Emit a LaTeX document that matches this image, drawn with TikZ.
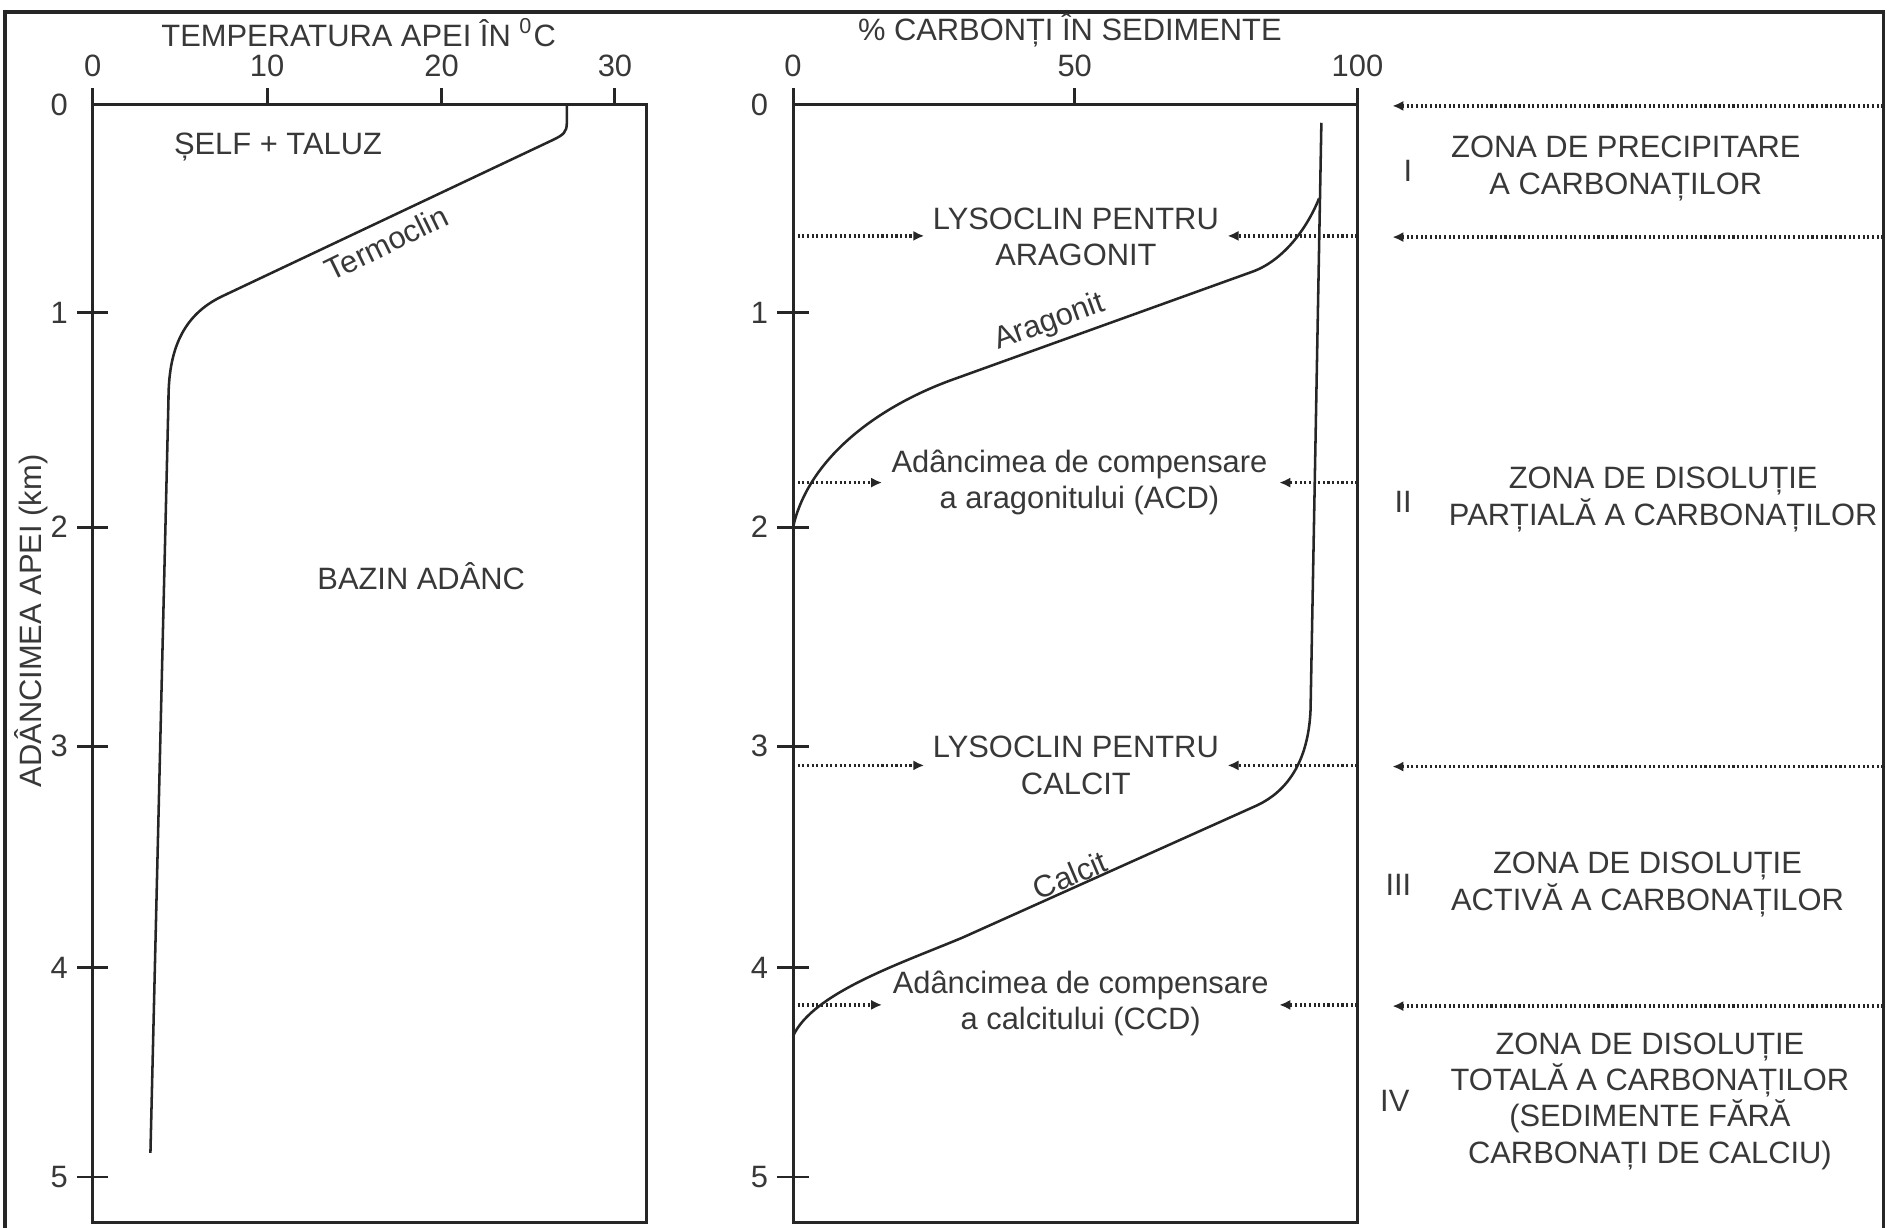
\documentclass[tikz,border=0pt]{standalone}
\usepackage{fontspec}
\setmainfont{Liberation Sans}
\usetikzlibrary{arrows.meta}
\definecolor{ink}{HTML}{262626}
\definecolor{txt}{HTML}{383838}
\begin{document}
\begin{tikzpicture}[x=0.1mm,y=-0.1mm,
  lbl/.style={text=txt,font=\fontsize{7.3}{8.6}\selectfont,inner sep=0pt,align=center},
  boxline/.style={draw=ink,line width=0.7pt},
  curveline/.style={draw=ink,line width=0.6pt,line join=round},
  dotarrow/.style={draw=ink,line width=0.8pt,dash pattern=on 0.5pt off 0.6pt,
     -{Latex[length=2.6pt,width=2.4pt]}},
]
\useasboundingbox (0,0) rectangle (1568,1020);
\clip (0,0) rectangle (1568,1020);
% outer frame
\draw[draw=ink,line width=0.8pt] (4,1040) -- (4,10) -- (1565,10) -- (1565,1040);

% ---------- left panel ----------
\draw[boxline] (77,87) rectangle (537,1016);
\foreach \x/\t in {77/0,222/10,367/20,511/30}{
  \draw[boxline] (\x,87) -- (\x,73);
  \node[lbl] (lx\t) at (\x,55) {\t};
}
\node[lbl,anchor=east] (ly0) at (57,87) {0};
\foreach \d/\y in {1/260,2/438,3/620,4/804,5/978}{
  \draw[boxline] (64,\y) -- (90,\y);
  \node[lbl,anchor=east] (ly\d) at (57,\y) {\d};
}
\node[lbl] (ttemp) at (298,27) {TEMPERATURA APEI ÎN \textsuperscript{0}C};
\node[lbl,rotate=90] (tdepth) at (26,516) {ADÂNCIMEA APEI (km)};
\node[lbl] (tself) at (231,122) {ȘELF + TALUZ};
\node[lbl] (tbazin) at (350,479) {BAZIN ADÂNC};
\node[lbl,rotate=26] (tterm) at (321,202) {Termoclin};

\draw[curveline] (471,87) -- (471,102) .. controls (471,110) and (468,112) .. (460,116)
  -- (185,246) .. controls (151,262) and (140,292) .. (140,332) -- (125,958);

% ---------- right panel ----------
\draw[boxline] (659,87) rectangle (1128,1016);
\foreach \x/\t in {659/0,893/50,1128/100}{
  \draw[boxline] (\x,87) -- (\x,73);
  \node[lbl] (rx\t) at (\x,55) {\t};
}
\node[lbl,anchor=east] (ry0) at (639,87) {0};
\foreach \d/\y in {1/260,2/438,3/620,4/804,5/978}{
  \draw[boxline] (646,\y) -- (672,\y);
  \node[lbl,anchor=east] (ry\d) at (639,\y) {\d};
}
\node[lbl] (tcarb) at (889,25) {\% CARBONȚI ÎN SEDIMENTE};

% curves
\draw[curveline] (1096,165) .. controls (1086,190) and (1066,217) .. (1040,226)
  -- (790,316) .. controls (730,338) and (672,380) .. (659,438);
\draw[curveline] (1098,102) -- (1089,590) .. controls (1087,635) and (1068,658) .. (1045,669)
  -- (800,779) .. controls (750,800) and (675,825) .. (659,861);
\node[lbl,rotate=20] (taragonit) at (872,268) {Aragonit};
\node[lbl,rotate=23] (tcalcit) at (889,727) {Calcit};

% level labels
\node[lbl] (lysar) at (894,197) {LYSOCLIN PENTRU\\ARAGONIT};
\node[lbl] (acd) at (897,401) {Adâncimea de compensare\\a aragonitului (ACD)};
\node[lbl] (lysca) at (894,636) {LYSOCLIN PENTRU\\CALCIT};
\node[lbl] (ccd) at (898,834) {Adâncimea de compensare\\a calcitului (CCD)};

% inner dotted arrows
\foreach \y/\l/\r in {196/768/1020, 401/733/1063, 636/768/1020, 835/733/1063}{
  \coordinate (a\y) at (659,\y);
  \coordinate (b\y) at (\l,\y);
  \coordinate (c\y) at (1128,\y);
  \coordinate (d\y) at (\r,\y);
  \draw[dotarrow] (a\y) -- (b\y);
  \draw[dotarrow] (c\y) -- (d\y);
}
% outer dotted arrows
\foreach \y in {88,197,637,836}{
  \coordinate (e\y) at (1565,\y);
  \coordinate (f\y) at (1157,\y);
  \draw[dotarrow] (e\y) -- (f\y);
}

% zones
\node[lbl] (z1n) at (1170,142) {I};
\node[lbl] (z1) at (1351,140) {ZONA DE PRECIPITARE\\A CARBONAȚILOR};
\node[lbl] (z2n) at (1166,417) {II};
\node[lbl] (z2) at (1382,415) {ZONA DE DISOLUȚIE\\PARȚIALĂ A CARBONAȚILOR};
\node[lbl] (z3n) at (1162,735) {III};
\node[lbl] (z3) at (1369,735) {ZONA DE DISOLUȚIE\\ACTIVĂ A CARBONAȚILOR};
\node[lbl] (z4n) at (1159,915) {IV};
\node[lbl] (z4) at (1371,915) {ZONA DE DISOLUȚIE\\TOTALĂ A CARBONAȚILOR\\(SEDIMENTE FĂRĂ\\CARBONAȚI DE CALCIU)};
\end{tikzpicture}
\end{document}
